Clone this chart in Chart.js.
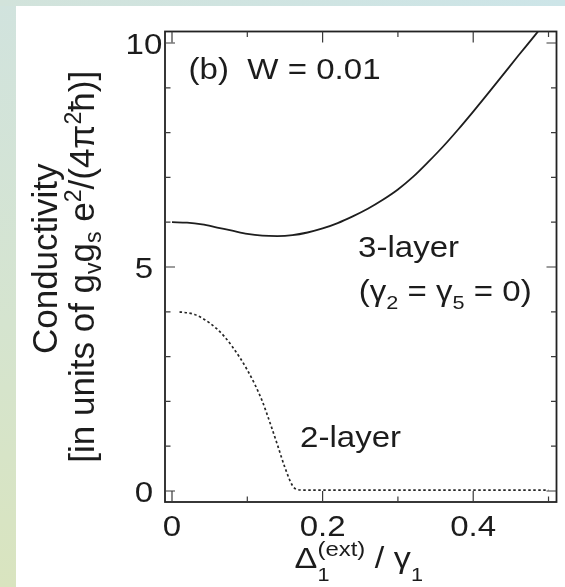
<!DOCTYPE html>
<html>
<head>
<meta charset="utf-8">
<script src="https://cdn.jsdelivr.net/npm/chart.js@4.4.1/dist/chart.umd.min.js"></script>
<style>
  html, body { margin: 0; padding: 0; }
  body {
    width: 565px; height: 587px; position: relative; overflow: hidden;
    background: linear-gradient(to bottom, #d1e3de 0%, #d5e4cf 55%, #d9e4bf 100%);
  }
  #topband { position: absolute; left: 0; top: 0; width: 565px; height: 6px;
    background: linear-gradient(to right, #d2e3db, #cde5e8); }
  #sheet { position: absolute; left: 16px; top: 6px; right: 0; bottom: 0; background: #fff; }
  #wrap { position: absolute; left: 0; top: 0; width: 565px; height: 587px; }
</style>
</head>
<body>
<div id="topband"></div>
<div id="sheet"></div>
<div id="wrap"><canvas id="c" width="565" height="587"></canvas></div>
<script>
// Conductivity vs. external gap, W = 0.01
const xThreeLayer = [0, 0.02, 0.04, 0.06, 0.08, 0.10, 0.12, 0.14, 0.16, 0.18, 0.20, 0.22, 0.24,
                     0.26, 0.28, 0.30, 0.32, 0.34, 0.36, 0.38, 0.40, 0.42, 0.44, 0.46, 0.48, 0.50];
const yThreeLayer = [6.00, 5.99, 5.95, 5.88, 5.81, 5.74, 5.70, 5.69, 5.71, 5.77, 5.86, 5.98, 6.13,
                     6.30, 6.50, 6.73, 7.01, 7.34, 7.69, 8.07, 8.47, 8.88, 9.30, 9.72, 10.13, 10.55];

const xTwoLayer = [0.01, 0.03, 0.05, 0.07, 0.09, 0.10, 0.11, 0.12, 0.13, 0.14, 0.15, 0.16,
                   0.165, 0.175, 0.20, 0.30, 0.40, 0.50];
const yTwoLayer = [4.00, 3.94, 3.75, 3.44, 2.98, 2.70, 2.38, 2.00, 1.53, 1.03, 0.52, 0.12,
                   0.04, 0.02, 0.02, 0.02, 0.02, 0.02];

const xMajorTicks = [0, 0.2, 0.4];
const xTickLabels = ['0', '0.2', '0.4'];
const xMinorTicks = [0.1, 0.3, 0.5];
const yMajorTicks = [0, 5, 10];
const yTickLabels = ['0', '5', '10'];
const yMinorTicks = [1, 2, 3, 4, 6, 7, 8, 9];

const INK = '#1c1c1c';
const SX = 1.14;   // horizontal stretch of the lettering
const FACE = '"Liberation Sans", Arial, Helvetica, sans-serif';
const fnt = px => px + 'px ' + FACE;

// Draws a run of text segments (with sub/superscripts) starting at a baseline point.
function drawRich(ctx, segs, x, y, align, rotate) {
  ctx.save();
  ctx.translate(x, y);
  if (rotate) ctx.rotate(-Math.PI / 2);
  else ctx.scale(SX, 1);
  ctx.fillStyle = INK;
  ctx.textBaseline = 'alphabetic';
  ctx.textAlign = 'left';
  let total = 0;
  for (const s of segs) {
    ctx.font = fnt(s.size);
    if (!s.hold) total += ctx.measureText(s.t).width;
  }
  let pos = align === 'center' ? -total / 2 : align === 'right' ? -total : 0;
  for (const s of segs) {
    ctx.font = fnt(s.size);
    ctx.fillText(s.t, pos, s.dy || 0);
    if (!s.hold) pos += ctx.measureText(s.t).width;
  }
  ctx.restore();
}

const framePlugin = {
  id: 'frame',
  afterDraw(chart) {
    const { ctx, chartArea: a, scales: { x, y } } = chart;
    ctx.save();
    // box
    ctx.strokeStyle = '#222';
    ctx.lineWidth = 1.8;
    ctx.strokeRect(a.left, a.top, a.right - a.left, a.bottom - a.top);
    // inward ticks on all four sides
    ctx.lineWidth = 1.2;
    ctx.strokeStyle = '#3a3a3a';
    const tickX = (v, len) => {
      const px = x.getPixelForValue(v);
      ctx.beginPath();
      ctx.moveTo(px, a.bottom); ctx.lineTo(px, a.bottom - len);
      ctx.moveTo(px, a.top); ctx.lineTo(px, a.top + len);
      ctx.stroke();
    };
    const tickY = (v, len) => {
      const py = y.getPixelForValue(v);
      ctx.beginPath();
      ctx.moveTo(a.left, py); ctx.lineTo(a.left + len, py);
      ctx.moveTo(a.right, py); ctx.lineTo(a.right - len, py);
      ctx.stroke();
    };
    xMajorTicks.forEach(v => tickX(v, 11));
    xMinorTicks.forEach(v => tickX(v, 5.5));
    yMajorTicks.forEach(v => tickY(v, 10));
    yMinorTicks.forEach(v => tickY(v, 5.5));
    ctx.restore();

    // tick labels
    xMajorTicks.forEach((v, i) =>
      drawRich(ctx, [{ t: xTickLabels[i], size: 29 }], x.getPixelForValue(v), a.bottom + 33.5, 'center'));
    yMajorTicks.forEach((v, i) =>
      drawRich(ctx, [{ t: yTickLabels[i], size: 29 }], a.left - 21, y.getPixelForValue(v) + 11, 'center'));

    // axis titles
    drawRich(ctx, [
      { t: 'Δ', size: 30 },
      { t: '1', size: 19, dy: 13, hold: true },
      { t: '(ext)', size: 21, dy: -12 },
      { t: ' / ', size: 30 },
      { t: 'γ', size: 30 },
      { t: '1', size: 19, dy: 13 }
    ], (a.left + a.right) / 2 - 2, a.bottom + 66, 'center');

    const midY = (a.top + a.bottom) / 2;
    drawRich(ctx, [{ t: 'Conductivity', size: 35 }], a.left - 108, midY - 8, 'center', true);
    drawRich(ctx, [
      { t: '[in units of g', size: 35 },
      { t: 'v', size: 23, dy: 7 },
      { t: 'g', size: 35 },
      { t: 's', size: 23, dy: 7 },
      { t: ' e', size: 35 },
      { t: '2', size: 23, dy: -13 },
      { t: '/(4π', size: 35 },
      { t: '2', size: 23, dy: -13 },
      { t: 'ħ)]', size: 35 }
    ], a.left - 71, midY, 'center', true);

    // in-plot annotations, anchored in data coordinates
    drawRich(ctx, [{ t: '(b)  W = 0.01', size: 29 }], x.getPixelForValue(0.022), y.getPixelForValue(9.2), 'left');
    drawRich(ctx, [{ t: '3-layer', size: 29 }], x.getPixelForValue(0.247), y.getPixelForValue(5.22), 'left');
    drawRich(ctx, [
      { t: '(γ', size: 29 }, { t: '2', size: 19, dy: 8 },
      { t: ' = γ', size: 29 }, { t: '5', size: 19, dy: 8 },
      { t: ' = 0)', size: 29 }
    ], x.getPixelForValue(0.248), y.getPixelForValue(4.24), 'left');
    drawRich(ctx, [{ t: '2-layer', size: 29 }], x.getPixelForValue(0.170), y.getPixelForValue(0.98), 'left');
  }
};

const toPts = (xs, ys) => xs.map((v, i) => ({ x: v, y: ys[i] }));

new Chart(document.getElementById('c'), {
  type: 'scatter',
  data: {
    datasets: [
      {
        label: '3-layer',
        data: toPts(xThreeLayer, yThreeLayer),
        showLine: true,
        borderColor: '#1e1e1e',
        borderWidth: 1.8,
        pointRadius: 0,
        cubicInterpolationMode: 'monotone'
      },
      {
        label: '2-layer',
        data: toPts(xTwoLayer, yTwoLayer),
        showLine: true,
        borderColor: '#262626',
        borderWidth: 1.7,
        borderDash: [2.5, 2.5],
        pointRadius: 0,
        cubicInterpolationMode: 'monotone'
      }
    ]
  },
  options: {
    responsive: false,
    animation: false,
    devicePixelRatio: 1,
    layout: { padding: { left: 165, top: 31.5, right: 8.5, bottom: 85 } },
    plugins: { legend: { display: false }, tooltip: { enabled: false } },
    scales: {
      x: { type: 'linear', min: -0.0093, max: 0.5106, display: false },
      y: { type: 'linear', min: -0.246, max: 10.257, display: false }
    }
  },
  plugins: [framePlugin]
});
</script>
</body>
</html>
